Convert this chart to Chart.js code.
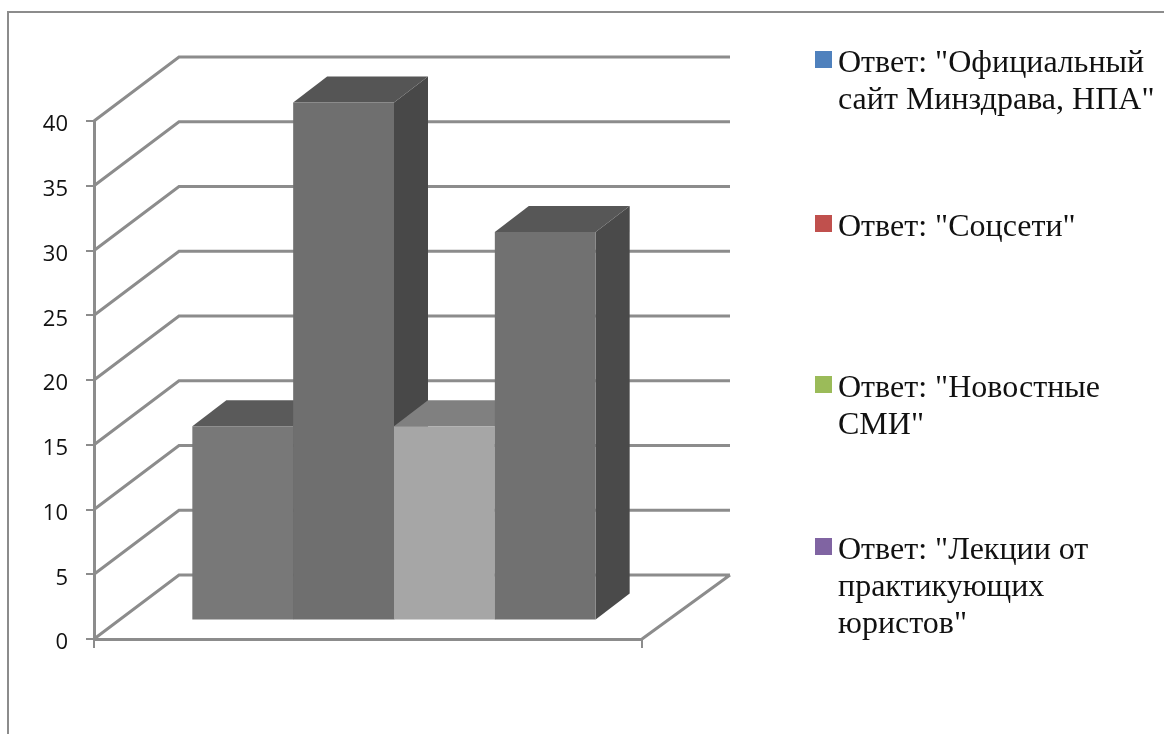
<!DOCTYPE html>
<html lang="ru">
<head>
    <meta charset="UTF-8">
    <title>Ответы</title>
    <style>
        html, body { margin: 0; padding: 0; width: 1164px; height: 734px; overflow: hidden; background: #fff; }
        #frame { position: absolute; left: 7px; top: 11px; width: 1300px; height: 900px; border: 2px solid #8c8c8c; }
        #wrap { position: absolute; left: 0; top: 0; width: 1164px; height: 734px; }
        #legend { position: absolute; left: 0; top: 0; font: 32px/37px "Liberation Serif", serif; color: #111; }
        .item { position: absolute; left: 838px; white-space: nowrap; }
        .item:nth-child(1) { top: 43px; }
        .item:nth-child(2) { top: 207px; }
        .item:nth-child(3) { top: 368px; }
        .item:nth-child(4) { top: 530px; }
        .swatch { position: absolute; left: -23px; top: 8px; width: 17px; height: 17px; }
    </style>
</head>
<body>
    <div id="frame"></div>
    <div id="wrap"><canvas id="myChart" width="1164" height="734"></canvas></div>
    <div id="legend"></div>

    <script src="https://cdn.jsdelivr.net/npm/chart.js"></script>
    <script>
    "use strict"

    const categories = [""]
    const seriesNames = [
        ["Ответ: \"Официальный", "сайт Минздрава, НПА\""],
        ["Ответ: \"Соцсети\""],
        ["Ответ: \"Новостные", "СМИ\""],
        ["Ответ: \"Лекции от", "практикующих", "юристов\""]
    ]
    const seriesValues = [15, 40, 15, 30]
    const yTicks = [0, 5, 10, 15, 20, 25, 30, 35, 40]

    const legendColors = ["#4f81bd", "#c0504d", "#9bbb59", "#8064a2"]
    const frontColors = ["#787878", "#6f6f6f", "#a6a6a6", "#717171"]
    const topColors = ["#5a5a5a", "#555555", "#808080", "#575757"]
    const sideColors = ["#4c4c4c", "#484848", "#6a6a6a", "#4a4a4a"]

    const lineColor = "#8c8c8c"
    const lineWidth = 3

    function polygon(ctx, points, color) {
        ctx.fillStyle = color
        ctx.beginPath()
        ctx.moveTo(points[0][0], points[0][1])
        for (let i = 1; i < points.length; i++) {
            ctx.lineTo(points[i][0], points[i][1])
        }
        ctx.closePath()
        ctx.fill()
    }

    // back wall, floor and the 3d look of the bars
    const box3d = {
        id: "box3d",
        beforeDatasetsDraw(chart) {
            const ctx = chart.ctx
            const area = chart.chartArea
            const y = chart.scales.y
            ctx.save()
            ctx.strokeStyle = lineColor
            ctx.lineWidth = lineWidth
            ctx.beginPath()
            yTicks.forEach(v => {
                const py = y.getPixelForValue(v)
                ctx.moveTo(area.left, py)
                ctx.lineTo(area.left + 85, py - 64)
                ctx.lineTo(area.right + 88, py - 64)
            })
            const floor = y.getPixelForValue(0)
            ctx.moveTo(area.right + 88, floor - 64)
            ctx.lineTo(area.right, floor)
            ctx.stroke()
            ctx.restore()

            // bars stand in the middle of the floor, drawn from left to right
            // so the next bar covers the side of the previous one
            ctx.save()
            ctx.translate(26, -18.5)
            seriesValues.forEach((v, i) => {
                const meta = chart.getDatasetMeta(i)
                const p = meta.data[0].getProps(["x", "y", "base", "width"], true)
                const left = p.x - p.width / 2
                const right = p.x + p.width / 2
                polygon(ctx, [[right, p.y], [right + 34, p.y - 26], [right + 34, p.base - 26], [right, p.base]], sideColors[i])
                polygon(ctx, [[left, p.y], [left + 34, p.y - 26], [right + 34, p.y - 26], [right, p.y]], topColors[i])
                meta.controller.draw()
            })
            ctx.restore()
            return false
        }
    }

    let graph = new Chart(document.getElementById("myChart"), {
        type: "bar",
        plugins: [box3d],
        data: {
            labels: categories,
            datasets: seriesValues.map((v, i) => ({
                label: seriesNames[i].join(" "),
                data: [v],
                backgroundColor: frontColors[i]
            }))
        },
        options: {
            responsive: false,
            animation: false,
            categoryPercentage: 0.736,
            barPercentage: 1,
            layout: { padding: { top: 121, right: 522, left: 0, bottom: 0 } },
            plugins: { legend: { display: false }, tooltip: { enabled: false } },
            scales: {
                x: {
                    afterFit(scale) { scale.height = 95 },
                    border: { color: lineColor, width: lineWidth },
                    grid: { drawOnChartArea: false, color: lineColor, lineWidth: 2, tickLength: 9 },
                    ticks: { display: true }
                },
                y: {
                    min: 0,
                    max: 40,
                    afterFit(scale) { scale.width = 94 },
                    border: { color: lineColor, width: lineWidth },
                    grid: { drawOnChartArea: false, color: lineColor, lineWidth: 2, tickLength: 8 },
                    ticks: {
                        stepSize: 5,
                        padding: 18,
                        labelOffset: 4,
                        color: "#111",
                        font: { family: "Open Sans", size: 22 }
                    }
                }
            }
        }
    })

    const legend = document.getElementById("legend")
    seriesNames.forEach((lines, i) => {
        const item = document.createElement("div")
        item.className = "item"
        const swatch = document.createElement("span")
        swatch.className = "swatch"
        swatch.style.background = legendColors[i]
        item.appendChild(swatch)
        lines.forEach((line, n) => {
            if (n > 0) item.appendChild(document.createElement("br"))
            item.appendChild(document.createTextNode(line))
        })
        legend.appendChild(item)
    })
    </script>
</body>
</html>
